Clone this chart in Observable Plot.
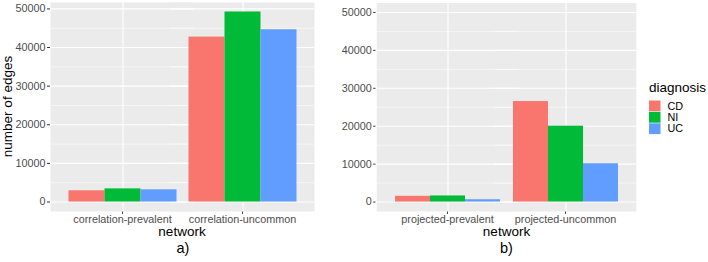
<!DOCTYPE html>
<html><head><meta charset="utf-8">
<script src="https://cdn.jsdelivr.net/npm/d3@7"></script>
<script src="https://cdn.jsdelivr.net/npm/@observablehq/plot@0.6"></script>
<style>
body{margin:0;background:#fff;}
#chart{position:relative;width:708px;height:262px;overflow:hidden;font-family:"Liberation Sans",Arial,sans-serif;}
#chart > svg{position:absolute;top:0;}
</style></head><body><div id="chart"></div>
<script>
// ---- data ----
const diagnoses = ["CD", "NI", "UC"];
const diagnosisColors = ["#F8766D", "#00BA38", "#619CFF"];

const networksA = ["correlation-prevalent", "correlation-uncommon"];
const cdA = [2900, 42700];
const niA = [3400, 49200];
const ucA = [3150, 44600];

const networksB = ["projected-prevalent", "projected-uncommon"];
const cdB = [1500, 26500];
const niB = [1600, 20000];
const ucB = [600, 10100];

const yTicks = [0, 10000, 20000, 30000, 40000, 50000];
const yMinorTicks = [5000, 15000, 25000, 35000, 45000];

const yLabel = "number of edges";
const xLabel = "network";
const panelLabels = ["a)", "b)"];
const legendTitle = "diagnosis";

// ---- drawing ----
const FONT = '"Liberation Sans", Arial, sans-serif';
const chart = document.getElementById("chart");

function panel(networks, series, yDomain, dims) {
  const rows = networks.flatMap((n, i) =>
    diagnoses.map((d, j) => ({network: n, diagnosis: d, value: series[j][i]})));
  const plotW = dims.width - dims.marginLeft - dims.marginRight;
  const step = plotW / 2.2;          // ggplot discrete expansion (0.6 units each side)
  const outer = 0.15 * step;         // gap between panel edge and first facet
  const band = 0.9 * step;           // facet (dodge group) width
  const first = () => networks[0];   // y-axis lives in the first facet only
  const svg = Plot.plot({
    width: dims.width,
    height: dims.height,
    marginLeft: dims.marginLeft,
    marginRight: dims.marginRight,
    marginTop: dims.marginTop,
    marginBottom: dims.marginBottom,
    style: {fontFamily: FONT, fontSize: "10.8px", color: "#4D4D4D", background: "transparent", overflow: "visible"},
    fx: {domain: networks, paddingInner: 0.1, paddingOuter: 0.15, axis: "bottom", label: null, tickSize: 3, tickPadding: 1},
    x: {domain: diagnoses, padding: 0, axis: null},
    y: {domain: yDomain, axis: null},
    color: {domain: diagnoses, range: diagnosisColors},
    marks: [
      Plot.frame({fill: "#EBEBEB", insetLeft: -outer, insetRight: -outer}),
      Plot.ruleY(yMinorTicks, {stroke: "#FFFFFF", strokeWidth: 0.55, insetLeft: -outer, insetRight: -outer}),
      Plot.ruleY(yTicks, {stroke: "#FFFFFF", strokeWidth: 1.1, insetLeft: -outer, insetRight: -outer}),
      Plot.ruleX([diagnoses[1]], {x: d => d, stroke: "#FFFFFF", strokeWidth: 1.1}),
      Plot.barY(rows, {fx: "network", x: "diagnosis", y: "value", fill: "diagnosis"}),
      // y axis: tick marks and labels
      Plot.ruleY(yTicks, {fx: first, stroke: "#333333", strokeWidth: 1, insetLeft: -outer - 3, insetRight: band + outer}),
      Plot.text(yTicks, {fx: first, y: d => d, text: d => String(d), frameAnchor: "left",
        textAnchor: "end", dx: -outer - 5, fill: "#4D4D4D", fontSize: 10.8})
    ]
  });
  svg.style.left = dims.left + "px";
  chart.appendChild(svg);
}

panel(networksA, [cdA, niA, ucA], [-0.05 * 49200, 1.05 * 49200],
  {left: 0, width: 320, height: 232, marginLeft: 49.5, marginRight: 6.5, marginTop: 2, marginBottom: 21});
panel(networksB, [cdB, niB, ucB], [-2500, 52500],
  {left: 320, width: 323, height: 232, marginLeft: 56, marginRight: 6, marginTop: 2.5, marginBottom: 21});

// overlay: axis titles, panel tags, legend
const ov = d3.select(chart).append("svg")
  .attr("width", 708).attr("height", 262)
  .style("left", "0px").style("pointer-events", "none")
  .attr("font-family", FONT);

ov.append("text").attr("transform", "translate(12,106.5) rotate(-90)")
  .attr("text-anchor", "middle").attr("font-size", 13.5).attr("fill", "#000").text(yLabel);
[182, 506.5].forEach((cx, i) => {
  ov.append("text").attr("x", cx).attr("y", 236).attr("text-anchor", "middle")
    .attr("font-size", 13.5).attr("fill", "#000").text(xLabel);
  ov.append("text").attr("x", cx + (i === 0 ? 1 : 0)).attr("y", 253).attr("text-anchor", "middle")
    .attr("font-size", 14.5).attr("fill", "#000").text(panelLabels[i]);
});

const lg = ov.append("g");
lg.append("text").attr("x", 649).attr("y", 91.5).attr("font-size", 13.5).attr("fill", "#000").text(legendTitle);
diagnoses.forEach((d, i) => {
  const y0 = 100.5 + i * 11.4;
  lg.append("rect").attr("x", 649).attr("y", y0).attr("width", 11.5).attr("height", 10.8)
    .attr("fill", diagnosisColors[i]);
  lg.append("text").attr("x", 667.5).attr("y", y0 + 5.4).attr("dy", "0.35em")
    .attr("font-size", 10.8).attr("fill", "#000").text(d);
});
</script>
</body></html>
